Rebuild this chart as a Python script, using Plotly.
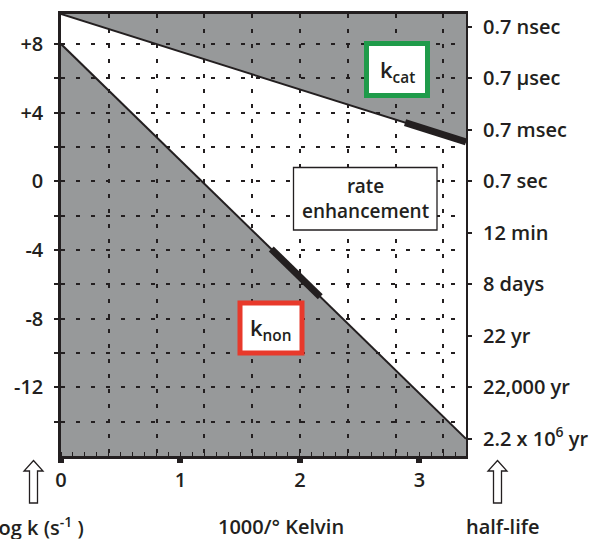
import plotly.graph_objects as go

# ---------------- data ----------------
x_span = [0.0, 3.39]            # 1000/T range shown
log_kcat = [9.75, 2.3]          # log k at the two ends of the span
log_knon = [8.0, -15.0]
kcat_bold_x = [2.88, 3.39]
kcat_bold_y = [3.42, 2.3]
knon_bold_x = [1.76, 2.17]
knon_bold_y = [-3.94, -6.72]
y_floor = -16.0
y_ceiling = 9.75

left_tickvals = [8, 4, 0, -4, -8, -12]
left_ticktext = ["+8", "+4", "0", "-4", "-8", "-12"]
left_minorvals = [6, 2, -2, -6, -10, -14]
right_tickvals = [9, 6, 3, 0, -3, -6, -9, -12, -15]
right_ticktext = ["0.7 nsec", "0.7 \u03bcsec", "0.7 msec", "0.7 sec", "12 min",
                  "8 days", "22 yr", "22,000 yr", "2.2 x 10<sup>6</sup> yr"]
x_tickvals = [0, 1, 2, 3]
x_ticktext = ["0", "1", "2", "3"]
grid_x = [0.4, 0.8, 1.2, 1.6, 2.0, 2.4, 2.8, 3.2]

# ---------------- layout geometry ----------------
W, H = 602, 539
L, R, T, B = 61, 466, 14, 456


def px(x):
    return (x - L) / (R - L)


def py(y):
    return (B - y) / (B - T)


INK = "#231f20"
GRAY = "#97999a"
FAM = "Open Sans SemiBold, Open Sans, sans-serif"
FONT = dict(family=FAM, size=20, color=INK, weight=600)

fig = go.Figure()

# lines
fig.add_trace(go.Scatter(x=x_span, y=log_kcat, mode="lines",
                         line=dict(color=INK, width=2), hoverinfo="skip", showlegend=False))
fig.add_trace(go.Scatter(x=x_span, y=log_knon, mode="lines",
                         line=dict(color=INK, width=2), hoverinfo="skip", showlegend=False))
fig.add_trace(go.Scatter(x=kcat_bold_x, y=kcat_bold_y, mode="lines",
                         line=dict(color=INK, width=7), hoverinfo="skip", showlegend=False))
fig.add_trace(go.Scatter(x=knon_bold_x, y=knon_bold_y, mode="lines",
                         line=dict(color=INK, width=7), hoverinfo="skip", showlegend=False))
# helper traces for the secondary axes
fig.add_trace(go.Scatter(x=x_span, y=log_kcat, mode="lines", xaxis="x2", yaxis="y",
                         line=dict(width=0), opacity=0, hoverinfo="skip", showlegend=False))
fig.add_trace(go.Scatter(x=x_span, y=log_kcat, mode="lines", xaxis="x", yaxis="y2",
                         line=dict(width=0), opacity=0, hoverinfo="skip", showlegend=False))

shapes = []
# gray regions (below grid lines)
top_path = (f"M {x_span[0]},{y_ceiling} L {x_span[1]},{y_ceiling} "
            f"L {x_span[1]},{log_kcat[1]} L {x_span[0]},{log_kcat[0]} Z")
bot_path = (f"M {x_span[0]},{log_knon[0]} L {x_span[1]},{log_knon[1]} "
            f"L {x_span[1]},{y_floor} L {x_span[0]},{y_floor} Z")
for p in (top_path, bot_path):
    shapes.append(dict(type="path", path=p, xref="x", yref="y", fillcolor=GRAY,
                       line=dict(width=0), layer="below"))


def box(x0, y0, x1, y1, color, w):
    return dict(type="rect", xref="paper", yref="paper",
                x0=px(x0), x1=px(x1), y0=py(y0), y1=py(y1),
                line=dict(color=color, width=w), fillcolor="white", layer="above")


shapes.append(box(366.5, 43.5, 427.5, 95.5, "#1f9b4a", 5))
shapes.append(box(240, 303, 302, 353, "#e8392b", 5))
shapes.append(box(293.5, 167.5, 437, 230, INK, 1.3))


def arrow(cx, top, base, bottom, hw, sw):
    pts = [(cx, top), (cx + hw, base), (cx + sw, base), (cx + sw, bottom),
           (cx - sw, bottom), (cx - sw, base), (cx - hw, base)]
    d = "M " + " L ".join(f"{px(a):.5f},{py(b):.5f}" for a, b in pts) + " Z"
    return dict(type="path", path=d, xref="paper", yref="paper",
                fillcolor="white", line=dict(color=INK, width=1.3), layer="above")


shapes.append(arrow(33.5, 460.5, 471, 503, 9.5, 4))
shapes.append(arrow(497.5, 460.5, 471, 503, 9.5, 4))

# text labels
text_labels = [
    ("k<sub>cat</sub>", 397, 71, "center", 22),
    ("k<sub>non</sub>", 271, 329, "center", 22),
    ("rate<br>enhancement", 365, 199, "center", 19),
    ("log k (s<sup>-1</sup> )", 86, 526, "right", 20),
    ("1000/\u00b0 Kelvin", 281, 526, "center", 20),
    ("half-life", 503, 526, "center", 20),
]
annotations = [dict(text=t, x=px(xp), y=py(yp), xref="paper", yref="paper",
                    xanchor=anc, yanchor="middle", showarrow=False,
                    font=dict(family=FAM, size=sz, color=INK, weight=600))
               for t, xp, yp, anc, sz in text_labels]

GRID = dict(gridcolor=INK, gridwidth=1.5, griddash="4px,11px")

fig.update_layout(
    width=W, height=H,
    margin=dict(l=L, r=W - R, t=T, b=H - B, pad=0),
    paper_bgcolor="white", plot_bgcolor="white",
    font=FONT,
    showlegend=False,
    shapes=shapes,
    annotations=annotations,
    xaxis=dict(range=x_span, tickmode="array", tickvals=grid_x, showticklabels=False,
               ticks="", showline=True, linecolor=INK, linewidth=2.5, mirror=True,
               zeroline=False, showgrid=True, **GRID,
               minor=dict(dtick=0.1, tick0=0, ticks="inside", ticklen=4,
                          tickwidth=1, tickcolor=INK, showgrid=False)),
    xaxis2=dict(range=x_span, overlaying="x", anchor="y", side="bottom",
                tickmode="array", tickvals=x_tickvals, ticktext=x_ticktext,
                ticks="outside", ticklen=6, tickwidth=6, tickcolor=INK,
                ticklabelstandoff=0, showgrid=False, showline=False, zeroline=False,
                tickfont=FONT),
    yaxis=dict(range=[y_floor, y_ceiling], tickmode="array", tickvals=left_tickvals,
               ticktext=left_ticktext, ticks="outside", ticklen=4, tickwidth=1.5,
               tickcolor=INK, ticklabelstandoff=7, showline=True, linecolor=INK,
               linewidth=2.5, zeroline=False, tickfont=FONT, showgrid=True, **GRID,
               minor=dict(tickmode="array", tickvals=left_minorvals, ticks="outside",
                          ticklen=4, tickwidth=1.5, tickcolor=INK, showgrid=True, **GRID)),
    yaxis2=dict(range=[y_floor, y_ceiling], overlaying="y", anchor="x", side="right",
                tickmode="array", tickvals=right_tickvals, ticktext=right_ticktext,
                ticks="outside", ticklen=4, tickwidth=1.5, tickcolor=INK,
                ticklabelstandoff=7, showline=True, linecolor=INK, linewidth=2,
                showgrid=False, zeroline=False, tickfont=FONT),
)

fig.write_html("out.html", config={"displayModeBar": False},
               post_script="document.body.style.margin='0px';")
